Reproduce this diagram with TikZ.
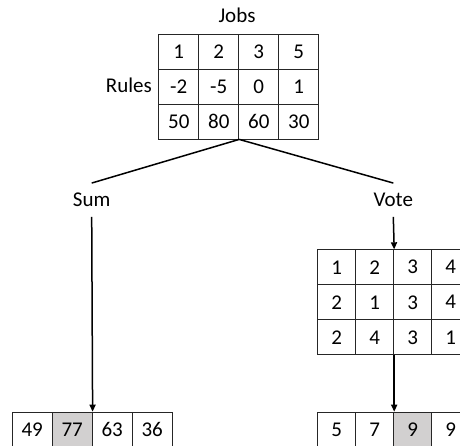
\documentclass[tikz,border=0pt]{standalone}
\usepackage{fontspec}
\setmainfont{Carlito}
\usetikzlibrary{arrows.meta}
\definecolor{hl}{RGB}{210,208,208}
\begin{document}
\begin{tikzpicture}[x=1pt,y=-1pt,
  font=\fontsize{21}{25}\selectfont,
  cell/.style={draw=black!85, line width=0.9pt, minimum width=40pt, minimum height=35pt, inner sep=0pt, anchor=north west},
  ncell/.style={cell, minimum width=38pt},
  lbl/.style={inner xsep=2pt, inner ysep=10pt, text height=13.5pt, text depth=0pt},
  conn/.style={line width=1.5pt},
  arr/.style={line width=1.5pt, -{Triangle[length=7pt,width=6pt]}}]
\useasboundingbox (0,0) rectangle (460,445);
\clip (0,0) rectangle (460,445);
% top table
\foreach \c/\v in {1/1,2/2,3/3,4/5}
  \node[cell] (t1\c) at ({158.3+40*(\c-1)},33.5) {\v};
\foreach \c/\v in {1/-2,2/-5,3/0,4/1}
  \node[cell] (t2\c) at ({158.3+40*(\c-1)},68.5) {\v};
\foreach \c/\v in {1/50,2/80,3/60,4/30}
  \node[cell] (t3\c) at ({158.3+40*(\c-1)},103.5) {\v};
\node[lbl, inner ysep=2pt] (jobs) at (237,15.7) {Jobs};
\node[lbl, inner ysep=2pt, anchor=east] (rules) at (154,86) {Rules};
% labels
\node[lbl] (sum) at (91.7,200) {Sum};
\node[lbl] (vote) at (393.3,200) {Vote};
% vote table
\foreach \c/\v in {1/1,2/2,3/3,4/4}
  \node[ncell] (v1\c) at ({317.3+38*(\c-1)},249.3) {\v};
\foreach \c/\v in {1/2,2/1,3/3,4/4}
  \node[ncell] (v2\c) at ({317.3+38*(\c-1)},284.3) {\v};
\foreach \c/\v in {1/2,2/4,3/3,4/1}
  \node[ncell] (v3\c) at ({317.3+38*(\c-1)},319.3) {\v};
% result rows
\foreach \c/\v in {1/49,2/77,3/63,4/36}
  \node[cell] (s\c) at ({11.7+40*(\c-1)},411.7) {\v};
\foreach \c/\v in {1/5,2/7,3/9,4/9}
  \node[ncell] (r\c) at ({317.3+38*(\c-1)},411.7) {\v};
\node[cell, fill=hl] at (s2.north west) {77};
\node[ncell, fill=hl] at (r3.north west) {9};
% connectors
\draw[conn] (t32.south east) -- (sum.north);
\draw[conn] (t32.south east) -- (vote.north);
\draw[arr] (sum.south) -- (s2.north east);
\draw[arr] (vote.south) -- (v12.north east);
\draw[arr] (v32.south east) -- (r2.north east);
\end{tikzpicture}
\end{document}
